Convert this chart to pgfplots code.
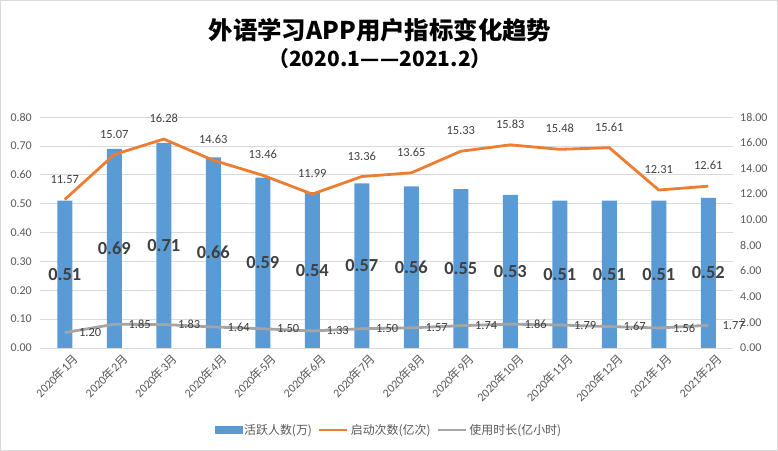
\documentclass[border=0pt]{standalone}
\usepackage{pgfplots}
\pgfplotsset{compat=1.18}
\usepackage{pgfplotstable}
\usepackage{fontspec}
\setmainfont{Carlito}
\newfontfamily\cjk{Noto Sans CJK SC}
\definecolor{cblue}{HTML}{5B9BD5}
\definecolor{corange}{HTML}{ED7D31}
\definecolor{cgray}{HTML}{A5A5A5}
\definecolor{ctext}{HTML}{595959}
\definecolor{clabel}{HTML}{404040}
\definecolor{cgrid}{HTML}{D9D9D9}

\pgfplotstableread{
x users starts hours
0 0.51 11.57 1.20
1 0.69 15.07 1.85
2 0.71 16.28 1.83
3 0.66 14.63 1.64
4 0.59 13.46 1.50
5 0.54 11.99 1.33
6 0.57 13.36 1.50
7 0.56 13.65 1.57
8 0.55 15.33 1.74
9 0.53 15.83 1.86
10 0.51 15.48 1.79
11 0.51 15.61 1.67
12 0.51 12.31 1.56
13 0.52 12.61 1.77
}\data

\pgfplotsset{
  mylinelegend/.style={legend image code/.code={\draw[##1] (0bp,0bp) -- (28bp,0bp);}},
  mybarlegend/.style={legend image code/.code={\fill[cblue] (0bp,-3.5bp) rectangle (27bp,3.5bp);}},
  twoaxis/.style={
    at={(40bp,103bp)}, anchor=south west, scale only axis,
    width=693bp, height=231bp,
    xmin=-0.5, xmax=13.5,
    axis line style={draw=none},
    tick style={draw=none}, major tick length=0pt,
    /pgf/number format/assume math mode=true,
    /pgf/number format/.cd, fixed, fixed zerofill, precision=2, /pgfplots/.cd,
  },
}

\begin{document}
\begin{tikzpicture}
\useasboundingbox (0bp,0bp) rectangle (778bp,451bp);
\draw[cgrid, line width=0.75bp] (0.5bp,0.5bp) rectangle (777.5bp,450.5bp);

\node[anchor=base, inner sep=0, font={\cjk\bfseries\fontsize{24.5}{28}\selectfont}] at (380bp,411bp) {外语学习APP用户指标变化趋势};
\node[anchor=base, inner sep=0, font={\cjk\bfseries\fontsize{21}{24}\selectfont}] at (380bp,384bp) {（2020.1—\kern1.2bp—2021.2）};

\begin{axis}[twoaxis,
  ymin=0, ymax=0.8,
  ytick={0,0.1,0.2,0.3,0.4,0.5,0.6,0.7,0.8},
  ymajorgrids, grid style={cgrid, line width=0.75bp},
  yticklabel style={anchor=east, inner sep=0pt, xshift=-8bp, text=ctext, font=\fontsize{12}{14}\selectfont},
  xtick={0,...,13},
  xticklabels={2020{\cjk 年}1{\cjk 月},2020{\cjk 年}2{\cjk 月},2020{\cjk 年}3{\cjk 月},2020{\cjk 年}4{\cjk 月},2020{\cjk 年}5{\cjk 月},2020{\cjk 年}6{\cjk 月},2020{\cjk 年}7{\cjk 月},2020{\cjk 年}8{\cjk 月},2020{\cjk 年}9{\cjk 月},2020{\cjk 年}10{\cjk 月},2020{\cjk 年}11{\cjk 月},2020{\cjk 年}12{\cjk 月},2021{\cjk 年}1{\cjk 月},2021{\cjk 年}2{\cjk 月}},
  xticklabel style={rotate=45, anchor=east, inner sep=0pt, xshift=2bp, yshift=-14bp, text=ctext, font=\fontsize{12}{14}\selectfont},
]
\addplot[ybar, bar width=15bp, bar shift=0pt, fill=cblue, draw=none] table[x=x, y=users] {\data};
\addplot[draw=none, mark=none, nodes near coords, point meta=explicit,
  nodes near coords style={anchor=center, inner sep=0pt, text=clabel, font=\bfseries\fontsize{18.5}{20}\selectfont,
  /pgf/number format/.cd, fixed, fixed zerofill, precision=2}]
  table[x=x, y expr=\thisrow{users}/2, meta=users] {\data};
\end{axis}

\begin{axis}[twoaxis,
  ymin=0, ymax=18,
  ytick={0,2,...,18},
  yticklabel pos=right,
  yticklabel style={anchor=west, inner sep=0pt, xshift=7bp, text=ctext, font=\fontsize{12}{14}\selectfont},
  xtick=\empty,
  legend columns=3,
  legend style={at={(0.5036,-0.355)}, anchor=center, draw=none, fill=none,
    font=\fontsize{12}{14}\selectfont, text=ctext,
    /tikz/every even column/.append style={column sep=4bp},
    nodes={inner sep=2bp}},
]
\addlegendimage{mybarlegend}
\addlegendentry{{\cjk 活跃人数(万)}}
\addplot[corange, line width=2.8bp, mark=none, mylinelegend,
  nodes near coords, point meta=explicit,
  nodes near coords style={anchor=south, inner sep=0pt, yshift=15bp, text=clabel, font=\fontsize{12.5}{14}\selectfont,
  /pgf/number format/.cd, fixed, fixed zerofill, precision=2}]
  table[x=x, y=starts, meta=starts] {\data};
\addlegendentry{{\cjk 启动次数(亿次)}}
\addplot[cgray, line width=2.8bp, mark=none, mylinelegend,
  nodes near coords, point meta=explicit,
  nodes near coords style={anchor=west, inner sep=0pt, xshift=13bp, text=clabel, font=\fontsize{12.5}{14}\selectfont,
  /pgf/number format/.cd, fixed, fixed zerofill, precision=2}]
  table[x=x, y=hours, meta=hours] {\data};
\addlegendentry{{\cjk 使用时长(亿小时)}}
\end{axis}
\end{tikzpicture}
\end{document}
